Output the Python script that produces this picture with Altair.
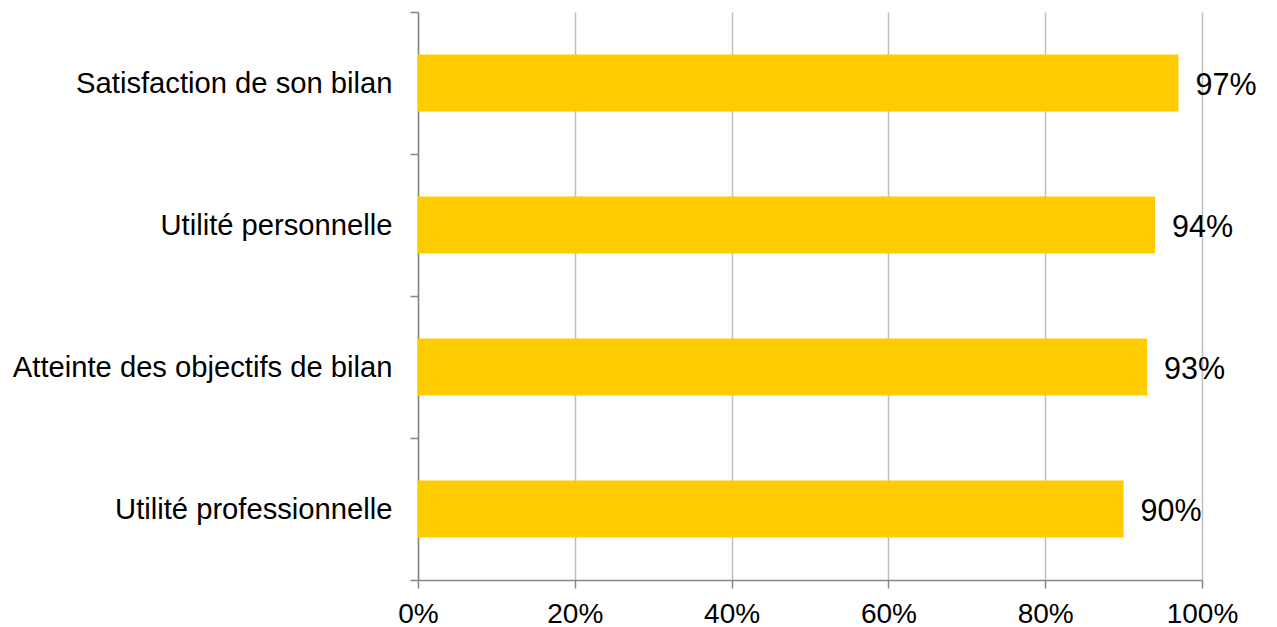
import altair as alt
import pandas as pd

categories = ["Satisfaction de son bilan", "Utilité personnelle",
              "Atteinte des objectifs de bilan", "Utilité professionnelle"]
values = [0.97, 0.94, 0.93, 0.90]
labels = ["97%", "94%", "93%", "90%"]

df = pd.DataFrame({"cat": categories, "val": values, "lab": labels})

FONT = "Liberation Sans"

y_enc = alt.Y("cat:N", sort=categories, title=None,
              scale=alt.Scale(paddingInner=0, paddingOuter=0),
              axis=alt.Axis(tickBand="extent", tickSize=8, tickColor="#868686",
                            domainColor="#868686", domainWidth=1.5, tickWidth=1.5,
                            labelFont=FONT, labelFontSize=29.2, labelColor="#000000",
                            labelPadding=18, labelLimit=600, grid=False))

x_enc = alt.X("val:Q", title=None,
              scale=alt.Scale(domain=[0, 1]),
              axis=alt.Axis(format=".0%", values=[0, 0.2, 0.4, 0.6, 0.8, 1.0],
                            tickSize=8, tickColor="#868686", domainColor="#868686",
                            domainWidth=1.5, tickWidth=1.5,
                            gridColor="#BFBFBF", gridWidth=1.5,
                            labelFont=FONT, labelFontSize=28, labelColor="#000000",
                            labelPadding=12, labelFlush=False))

bars = alt.Chart(df).mark_bar(color="#FFCC00", height={"band": 0.4}).encode(x=x_enc, y=y_enc)

text = alt.Chart(df).mark_text(align="left", baseline="middle", dx=17, dy=3,
                               font=FONT, fontSize=30.5, color="#000000").encode(
    x=alt.X("val:Q"), y=alt.Y("cat:N", sort=categories), text="lab:N")

chart = (bars + text).properties(
    width=784, height=568,
    autosize=alt.AutoSizeParams(type="none"),
    padding={"left": 410, "top": 4, "right": 62, "bottom": 47},
).configure_view(stroke=None)

chart.save("out.html", embed_options={"renderer": "svg", "actions": False})
